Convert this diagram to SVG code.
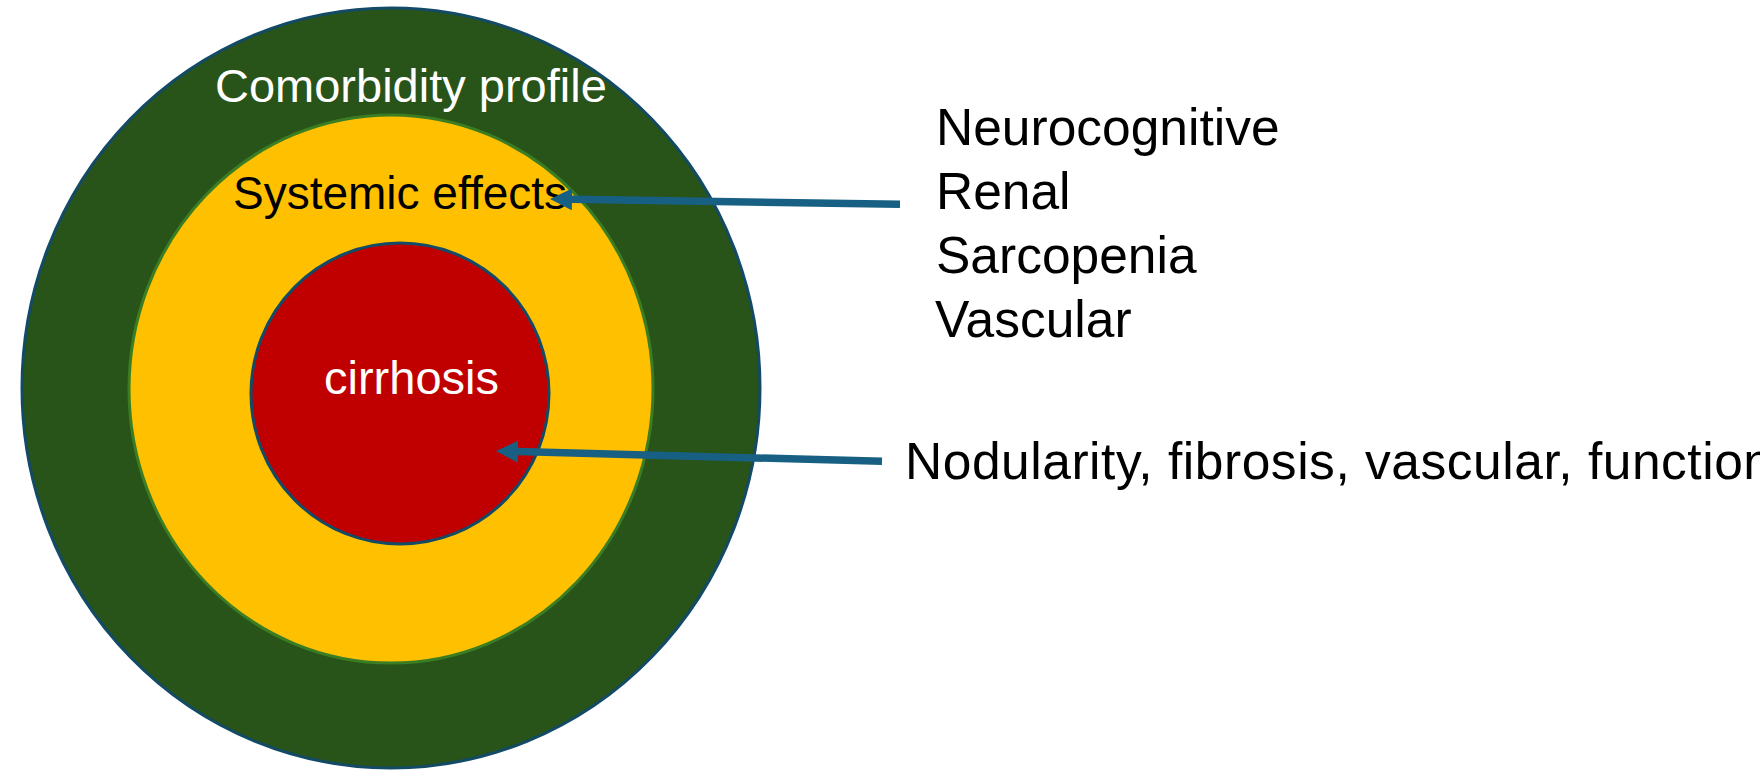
<svg xmlns="http://www.w3.org/2000/svg" width="1760" height="770" viewBox="0 0 1760 770">
<style>
.lbl{font-family:"Liberation Sans",Arial,sans-serif;}
.w{fill:#ffffff;}
.k{fill:#000000;}
.ring{stroke-width:3;}
.list{font-size:51.5px;}
.conn{stroke:#176083;stroke-width:7.5;fill:none;marker-end:url(#ah);}
</style>
<defs>
<marker id="ah" markerUnits="userSpaceOnUse" markerWidth="22" markerHeight="22" viewBox="0 0 22 22" refX="0" refY="11" orient="auto">
<path d="M0,0 L22,11 L0,22 z" fill="#176083"/>
</marker>
</defs>
<rect width="1760" height="770" fill="#ffffff"/>
<g id="comorbidity">
<ellipse class="ring" cx="391" cy="388" rx="369" ry="380" fill="#285319" stroke="#134a66"/>
<text class="lbl w" x="215" y="101.5" font-size="47">Comorbidity profile</text>
</g>
<g id="systemic">
<ellipse class="ring" cx="391" cy="389" rx="262" ry="274" fill="#ffc000" stroke="#3b7d23"/>
<text class="lbl k" x="233" y="208.5" font-size="46">Systemic effects</text>
</g>
<g id="cirrhosis">
<ellipse class="ring" cx="400" cy="393.5" rx="149" ry="150.5" fill="#c00000" stroke="#134a66"/>
<text class="lbl w" x="324" y="394" font-size="47">cirrhosis</text>
</g>
<g id="systemic-list">
<text class="lbl k list" x="936" y="144.5">Neurocognitive</text>
<text class="lbl k list" x="936" y="208.5">Renal</text>
<text class="lbl k list" x="936" y="272.7">Sarcopenia</text>
<text class="lbl k list" x="935" y="336.7">Vascular</text>
</g>
<g id="cirrhosis-list">
<text class="lbl k list" x="905" y="479.3" textLength="867" lengthAdjust="spacing">Nodularity, fibrosis, vascular, function</text>
</g>
<g id="connectors">
<line class="conn" x1="900" y1="204.3" x2="572" y2="199.3"/>
<line class="conn" x1="882" y1="461.3" x2="518" y2="451.6"/>
</g>
</svg>
